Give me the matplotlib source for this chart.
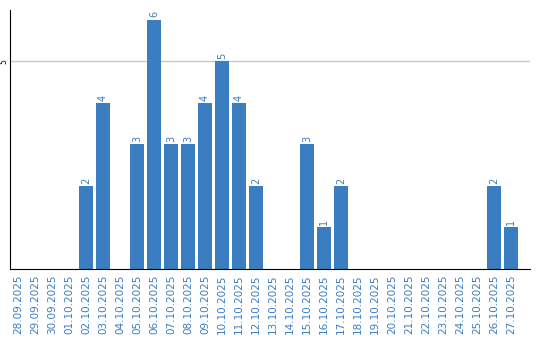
import matplotlib
matplotlib.use("Agg")
import matplotlib.pyplot as plt

dates = ["28.09.2025", "29.09.2025", "30.09.2025", "01.10.2025", "02.10.2025",
         "03.10.2025", "04.10.2025", "05.10.2025", "06.10.2025", "07.10.2025",
         "08.10.2025", "09.10.2025", "10.10.2025", "11.10.2025", "12.10.2025",
         "13.10.2025", "14.10.2025", "15.10.2025", "16.10.2025", "17.10.2025",
         "18.10.2025", "19.10.2025", "20.10.2025", "21.10.2025", "22.10.2025",
         "23.10.2025", "24.10.2025", "25.10.2025", "26.10.2025", "27.10.2025"]
values = [0, 0, 0, 0, 2, 4, 0, 3, 6, 3, 3, 4, 5, 4, 2,
          0, 0, 3, 1, 2, 0, 0, 0, 0, 0, 0, 0, 0, 2, 1]
yticks = [5]

blue = "#3a7dc1"
fig = plt.figure(figsize=(5.4, 3.4), dpi=100)
ax = fig.add_axes([10/540, 71/340, 520/540, 259/340])
x = list(range(len(dates)))
bars = ax.bar(x, values, width=0.82, color=blue, zorder=2)
for xi, v in zip(x, values):
    if v > 0:
        ax.text(xi, v + 0.05, str(v), rotation=90, ha="center", va="bottom",
                color=blue, fontsize=7)
ax.set_xlim(-0.47, 30.12)
ax.set_ylim(0, 6.23)
ax.set_yticks(yticks)
ax.set_yticklabels([str(t) for t in yticks], rotation=90, va="center", fontsize=5.5)
ax.yaxis.grid(True, color="#c8c8c8", linewidth=1, zorder=0)
ax.tick_params(axis="y", length=0, pad=1.5)
ax.set_xticks(x)
ax.set_xticklabels(dates, rotation=90, color=blue, fontsize=7.5)
ax.tick_params(axis="x", length=0, pad=4)
for s in ["top", "right"]:
    ax.spines[s].set_visible(False)
ax.spines["left"].set_color("black")
ax.spines["bottom"].set_color("black")
fig.savefig("out.png", dpi=100)
